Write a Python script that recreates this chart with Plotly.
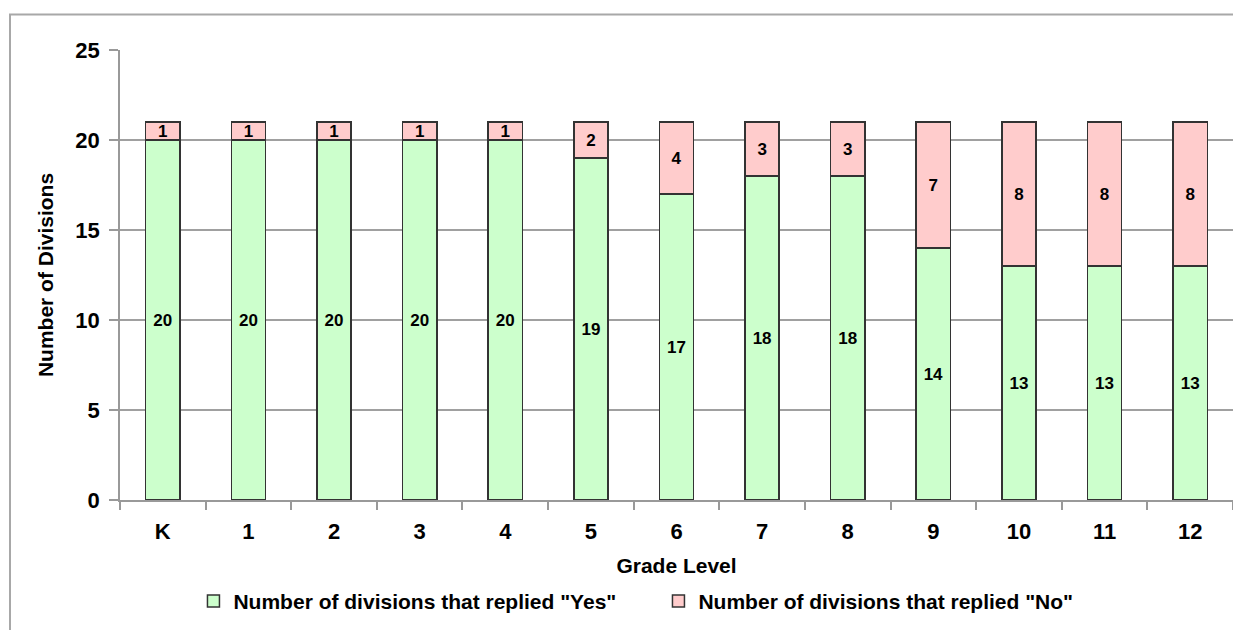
import plotly.graph_objects as go

grades = ["K", "1", "2", "3", "4", "5", "6", "7", "8", "9", "10", "11", "12"]
yes_vals = [20, 20, 20, 20, 20, 19, 17, 18, 18, 14, 13, 13, 13]
no_vals = [1, 1, 1, 1, 1, 2, 4, 3, 3, 7, 8, 8, 8]

FONT = "Liberation Sans, Arial, sans-serif"

fig = go.Figure()
fig.add_trace(go.Bar(
    x=grades, y=yes_vals, name='<b>Number of divisions that replied "Yes"</b>',
    marker=dict(color="#CCFFCC", line=dict(color="#333333", width=1.5)),
    text=[str(v) for v in yes_vals], textposition="inside", insidetextanchor="middle",
    textangle=0, constraintext="none",
    textfont=dict(family=FONT, size=17, color="black"),
    texttemplate="<b>%{text}</b>",
))
fig.add_trace(go.Bar(
    x=grades, y=no_vals, name='<b>Number of divisions that replied "No"</b>',
    marker=dict(color="#FFCCCC", line=dict(color="#333333", width=1.5)),
    text=[str(v) for v in no_vals], textposition="inside", insidetextanchor="middle",
    textangle=0, constraintext="none",
    textfont=dict(family=FONT, size=17, color="black"),
    texttemplate="<b>%{text}</b>",
))

PLOT_H = 622 - 42 - 125

fig.update_layout(
    barmode="stack",
    bargap=0.6,
    width=1233, height=622,
    margin=dict(l=112, r=8, t=42, b=125),
    paper_bgcolor="white", plot_bgcolor="white",
    font=dict(family=FONT, color="black"),
    uniformtext=dict(minsize=17, mode="show"),
    legend=dict(orientation="h", x=0.066, xanchor="left", y=-0.225, yanchor="middle",
                font=dict(family=FONT, size=21, color="black"), traceorder="normal",
                itemwidth=30, entrywidth=420),
    xaxis=dict(
        title=dict(text="<b>Grade Level</b>", font=dict(family=FONT, size=21), standoff=15),
        tickfont=dict(family=FONT, size=22), tickprefix="<b>", ticksuffix="</b>",
        ticklabelstandoff=11,
        showline=True, linecolor="#999999", linewidth=1.5,
        ticks="outside", tickson="boundaries", ticklen=8, tickcolor="#999999", tickwidth=1.5,
        showgrid=False,
    ),
    yaxis=dict(
        title=dict(text="<b>Number of Divisions</b>", font=dict(family=FONT, size=21), standoff=16),
        range=[0, 25], dtick=5,
        tickfont=dict(family=FONT, size=22), tickprefix="<b>", ticksuffix="</b>",
        ticklabelstandoff=5,
        showline=True, linecolor="#999999", linewidth=1.5,
        ticks="outside", ticklen=9, tickcolor="#999999", tickwidth=1.5,
        showgrid=True, gridcolor="#A0A0A0", gridwidth=1.5,
        zeroline=False,
    ),
    shapes=[dict(type="rect", xref="paper", yref="paper",
                 x0=(2 - 112) / 1113, x1=1.02, y0=-0.35, y1=1 + 36 / PLOT_H,
                 line=dict(color="#A8A8A8", width=2), fillcolor="rgba(0,0,0,0)", layer="below")],
)

fig.write_html("out.html")
